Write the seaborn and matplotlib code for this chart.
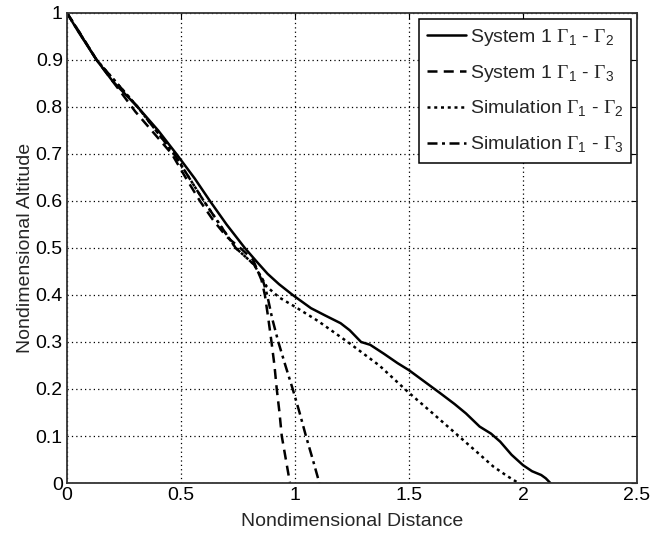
import matplotlib
matplotlib.use("Agg")
import matplotlib.pyplot as plt
import seaborn as sns

# Trajectory data: nondimensional distance (x) vs nondimensional altitude (y)
sys_12_x = [0, 0.05, 0.13, 0.2, 0.31, 0.4, 0.48, 0.56, 0.627, 0.70, 0.78, 0.832, 0.88,
            0.93, 0.99, 1.07, 1.13, 1.2, 1.24, 1.29, 1.33, 1.39, 1.45, 1.5, 1.57, 1.64,
            1.70, 1.75, 1.81, 1.86, 1.9, 1.95, 2.0, 2.04, 2.08, 2.1, 2.12]
sys_12_y = [1.0, 0.96, 0.9, 0.855, 0.8, 0.75, 0.70, 0.648, 0.60, 0.55, 0.50, 0.471, 0.445,
            0.423, 0.40, 0.372, 0.357, 0.34, 0.325, 0.30, 0.294, 0.275, 0.255, 0.24, 0.215,
            0.19, 0.168, 0.148, 0.12, 0.105, 0.088, 0.06, 0.038, 0.025, 0.017, 0.01, 0.0]

sys_13_x = [0, 0.06, 0.13, 0.2, 0.3, 0.38, 0.46, 0.52, 0.583, 0.64, 0.70, 0.76, 0.816,
            0.853, 0.868, 0.883, 0.897, 0.91, 0.92, 0.932, 0.942, 0.96, 0.978]
sys_13_y = [1.0, 0.955, 0.9, 0.855, 0.79, 0.745, 0.70, 0.65, 0.60, 0.56, 0.524, 0.50, 0.475,
            0.432, 0.40, 0.35, 0.30, 0.25, 0.20, 0.15, 0.10, 0.05, 0.0]

sim_12_x = [0, 0.13, 0.31, 0.47, 0.60, 0.74, 0.82, 0.876, 0.93, 1.0, 1.1, 1.24, 1.37,
            1.495, 1.6, 1.72, 1.8, 1.87, 1.93, 1.98]
sim_12_y = [1.0, 0.9, 0.8, 0.70, 0.60, 0.50, 0.465, 0.418, 0.395, 0.375, 0.345, 0.297, 0.25,
            0.194, 0.15, 0.099, 0.065, 0.035, 0.015, 0.0]

sim_13_x = [0, 0.13, 0.31, 0.47, 0.60, 0.74, 0.82, 0.86, 0.878, 0.90, 0.927, 0.958, 0.99,
            1.02, 1.048, 1.078, 1.107]
sim_13_y = [1.0, 0.9, 0.8, 0.70, 0.60, 0.50, 0.465, 0.43, 0.40, 0.35, 0.30, 0.25, 0.20,
            0.15, 0.10, 0.05, 0.0]

labels = [r"System 1 $\Gamma_{\mathsf{1}}$ - $\Gamma_{\mathsf{2}}$",
          r"System 1 $\Gamma_{\mathsf{1}}$ - $\Gamma_{\mathsf{3}}$",
          r"Simulation $\Gamma_{\mathsf{1}}$ - $\Gamma_{\mathsf{2}}$",
          r"Simulation $\Gamma_{\mathsf{1}}$ - $\Gamma_{\mathsf{3}}$"]

x_ticks = [0, 0.5, 1, 1.5, 2, 2.5]
x_tick_labels = ["0", "0.5", "1", "1.5", "2", "2.5"]
y_ticks = [0, 0.1, 0.2, 0.3, 0.4, 0.5, 0.6, 0.7, 0.8, 0.9, 1.0]
y_tick_labels = ["0", "0.1", "0.2", "0.3", "0.4", "0.5", "0.6", "0.7", "0.8", "0.9", "1"]

sns.set_style("white")
plt.rcParams["font.family"] = ["Liberation Sans", "DejaVu Sans"]
plt.rcParams["mathtext.fontset"] = "custom"
plt.rcParams["mathtext.rm"] = "Liberation Serif"
plt.rcParams["mathtext.sf"] = "Liberation Sans"

fig = plt.figure(figsize=(6.6, 5.34), dpi=100)
ax = fig.add_axes([0.1015, 0.0955, 0.8636, 0.8802])

styles = [
    (sys_12_x, sys_12_y, "-"),
    (sys_13_x, sys_13_y, (0, (4, 2.5))),
    (sim_12_x, sim_12_y, (0, (1.2, 1.5))),
    (sim_13_x, sim_13_y, (0, (4, 1.8, 1.2, 1.8))),
]
for (xs, ys, ls), lab in zip(styles, labels):
    sns.lineplot(x=xs, y=ys, sort=False, estimator=None, ax=ax, color="black",
                 linewidth=1.8, linestyle=ls, label=lab)

ax.set_xlim(0, 2.5)
ax.set_ylim(0, 1)
ax.set_xticks(x_ticks)
ax.set_xticklabels(x_tick_labels)
ax.set_yticks(y_ticks)
ax.set_yticklabels(y_tick_labels)

ax.grid(True, color="black", linestyle=(0, (1, 2.5)), linewidth=0.9)
ax.tick_params(direction="in", length=4, width=0.8, top=True, right=True,
               labelsize=14, colors="black", pad=3)
for s in ax.spines.values():
    s.set_color("#333333")
    s.set_linewidth(1.3)

ax.set_xlabel("Nondimensional Distance", fontsize=14, labelpad=6)
ax.set_ylabel("Nondimensional Altitude", fontsize=14, labelpad=1)

leg = ax.legend(loc="upper right", bbox_to_anchor=(0.99, 0.987), borderaxespad=0,
                fontsize=14, frameon=True, fancybox=False, edgecolor="black",
                framealpha=1, handlelength=2.0, handletextpad=0.2, labelspacing=0.78,
                borderpad=0.4)
leg.get_frame().set_linewidth(1.1)

fig.savefig("out.png", dpi=100, facecolor="white")
